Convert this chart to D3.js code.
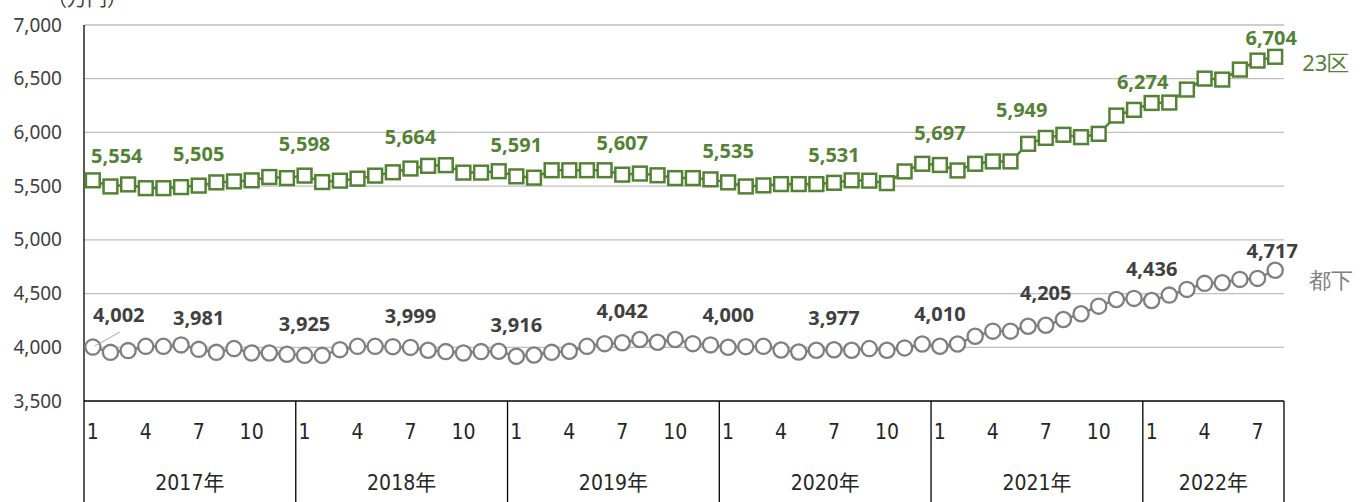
<!DOCTYPE html>
<html><head><meta charset="utf-8">
<script src="https://cdn.jsdelivr.net/npm/d3@7"></script>
<style>
html,body{margin:0;padding:0;background:#fff;}
svg{display:block;}
</style></head>
<body>
<svg id="chart" width="1368" height="502"></svg>
<script>
// ---- data ----
const years = ["2017年","2018年","2019年","2020年","2021年","2022年"];
const monthsInYear = [12,12,12,12,12,8];
const monthTickLabels = ["1","4","7","10"];
const yTicks = [3500,4000,4500,5000,5500,6000,6500,7000];
const seriesNames = ["23区","都下"];
const ku23 = [5554,5497,5516,5481,5481,5491,5505,5535,5544,5554,5585,5575,
              5598,5538,5551,5570,5598,5629,5664,5689,5695,5626,5626,5639,
              5591,5579,5648,5648,5648,5648,5607,5617,5601,5575,5575,5563,
              5535,5497,5507,5519,5519,5519,5531,5554,5551,5528,5637,5708,
              5697,5646,5708,5730,5730,5894,5949,5978,5956,5987,6157,6210,
              6274,6278,6399,6501,6492,6585,6669,6704];
const toka = [4002,3953,3969,4009,4009,4022,3981,3953,3988,3947,3947,3935,
              3925,3925,3978,4009,4009,4006,3999,3972,3960,3947,3960,3963,
              3916,3928,3953,3963,4009,4034,4042,4072,4047,4072,4034,4022,
              4000,4006,4009,3975,3956,3972,3977,3972,3988,3972,3994,4031,
              4010,4031,4103,4150,4150,4196,4205,4259,4312,4383,4445,4455,
              4436,4486,4539,4595,4601,4632,4641,4717];
const labelIdx = [0,6,12,18,24,30,36,42,48,54,60,67];

(function(){
// ---- categories ----
const cats = [];
years.forEach((yr,yi)=>{ for(let m=1;m<=monthsInYear[yi];m++) cats.push({year:yr, month:m, key:yr+"-"+m}); });

// ---- layout ----
const svg = d3.select("#chart");
const pl = 84, pr = 1284, pt = 25, pb = 401;
const x = d3.scaleBand().domain(cats.map(d=>d.key)).range([pl,pr]).padding(0);
const y = d3.scaleLinear().domain([3500,7000]).range([pb,pt]);
const cx = i => x(cats[i].key) + x.bandwidth()/2;

const GREEN = "#548235", GREY = "#7f7f7f";
const numFont = "'Noto Sans', 'Open Sans', sans-serif";
const narrowFont = "'Liberation Sans Narrow', 'DejaVu Sans Condensed', 'Noto Sans CJK JP', sans-serif";
const fmt = d3.format(",");

// gridlines
svg.append("g").selectAll("line").data(yTicks.filter(t=>t>3500)).join("line")
  .attr("x1",pl).attr("x2",pr).attr("y1",d=>y(d)).attr("y2",d=>y(d))
  .attr("stroke","#bfbfbf").attr("stroke-width",1.3);

// y axis
const yAxis = d3.axisLeft(y).tickValues(yTicks).tickFormat(fmt).tickSize(0).tickPadding(22);
const ga = svg.append("g").attr("transform",`translate(${pl},0)`).call(yAxis);
ga.select(".domain").remove();
ga.selectAll("text").attr("font-family",numFont).attr("font-size",19).attr("fill","#404040");

// unit label (partly above the top edge, as in the source)
svg.append("text").attr("x",87).attr("y",6).attr("text-anchor","middle")
  .attr("font-family","'Noto Sans CJK JP', sans-serif").attr("font-size",20).attr("fill","#404040").text("（万円）");

// axis frame lines
svg.append("line").attr("x1",pl).attr("x2",pl).attr("y1",pt).attr("y2",502).attr("stroke","#000").attr("stroke-width",1.3);
svg.append("line").attr("x1",pl).attr("x2",pr).attr("y1",pb).attr("y2",pb).attr("stroke","#000").attr("stroke-width",1.3);

// year dividers
const yearSpans = [];
let acc = 0;
years.forEach((yr,i)=>{ yearSpans.push({year:yr, start:acc, end:acc+monthsInYear[i]-1}); acc += monthsInYear[i]; });
svg.append("g").selectAll("line").data(yearSpans.slice(1).map(d=>x(cats[d.start].key)).concat([pr])).join("line")
  .attr("x1",d=>d).attr("x2",d=>d).attr("y1",pb).attr("y2",502).attr("stroke","#000").attr("stroke-width",1.3);

// month tick labels
svg.append("g").selectAll("text").data(cats.map((c,i)=>({c,i})).filter(d=>monthTickLabels.includes(String(d.c.month)))).join("text")
  .attr("x",d=>cx(d.i)).attr("y",439).attr("text-anchor","middle")
  .attr("font-family",narrowFont).attr("font-size",21).attr("fill","#262626").text(d=>String(d.c.month));

// year labels
svg.append("g").selectAll("text").data(yearSpans).join("text")
  .attr("x",d=>(x(cats[d.start].key)+x(cats[d.end].key)+x.bandwidth())/2).attr("y",490).attr("text-anchor","middle")
  .attr("font-family",narrowFont).attr("font-size",21).attr("fill","#262626").text(d=>d.year);

// lines
const line = d3.line().x((d,i)=>cx(i)).y(d=>y(d));
svg.append("path").datum(toka).attr("d",line).attr("fill","none").attr("stroke",GREY).attr("stroke-width",2.5);
svg.append("path").datum(ku23).attr("d",line).attr("fill","none").attr("stroke",GREEN).attr("stroke-width",2.5);

// markers
svg.append("g").selectAll("circle").data(toka).join("circle")
  .attr("cx",(d,i)=>cx(i)).attr("cy",d=>y(d)).attr("r",7.6)
  .attr("fill","#fff").attr("stroke",GREY).attr("stroke-width",2.3);
const S = 13.8;
svg.append("g").selectAll("rect").data(ku23).join("rect")
  .attr("x",(d,i)=>cx(i)-S/2).attr("y",d=>y(d)-S/2).attr("width",S).attr("height",S)
  .attr("fill","#fff").attr("stroke",GREEN).attr("stroke-width",2.5);

// data labels (default 32px above, with a few manual nudges)
const nudge = {
  ku23: {0:[24,7], 42:[0,4], 54:[-24,4], 60:[-9,11], 67:[-4,13]},
  toka: {0:[26,0], 67:[-3,13]}
};
function drawLabels(vals, key, color){
  svg.append("g").selectAll("text").data(labelIdx).join("text")
    .attr("x",i=>cx(i)+((nudge[key][i]||[0,0])[0]))
    .attr("y",i=>y(vals[i])-32+((nudge[key][i]||[0,0])[1]))
    .attr("dy","0.36em").attr("text-anchor","middle")
    .attr("font-family",numFont).attr("font-weight","bold").attr("font-size",20)
    .attr("fill",color).text(i=>fmt(vals[i]));
}
// leader line for first 都下 label
svg.append("line").attr("x1",cx(0)+2).attr("y1",y(toka[0])-1).attr("x2",cx(0)+27).attr("y2",y(toka[0])-15)
  .attr("stroke","#a6a6a6").attr("stroke-width",1);
drawLabels(ku23,"ku23",GREEN);
drawLabels(toka,"toka","#404040");

// series name labels
const last = cats.length-1;
svg.append("text").attr("x",cx(last)+27).attr("y",y(ku23[last])+6).attr("dy","0.36em")
  .attr("font-family",numFont).attr("font-size",22).attr("fill",GREEN).text(seriesNames[0]);
svg.append("text").attr("x",cx(last)+34).attr("y",y(toka[last])+10).attr("dy","0.36em")
  .attr("font-family",numFont).attr("font-size",22).attr("fill","#808080").text(seriesNames[1]);
})();
</script>
</body></html>
